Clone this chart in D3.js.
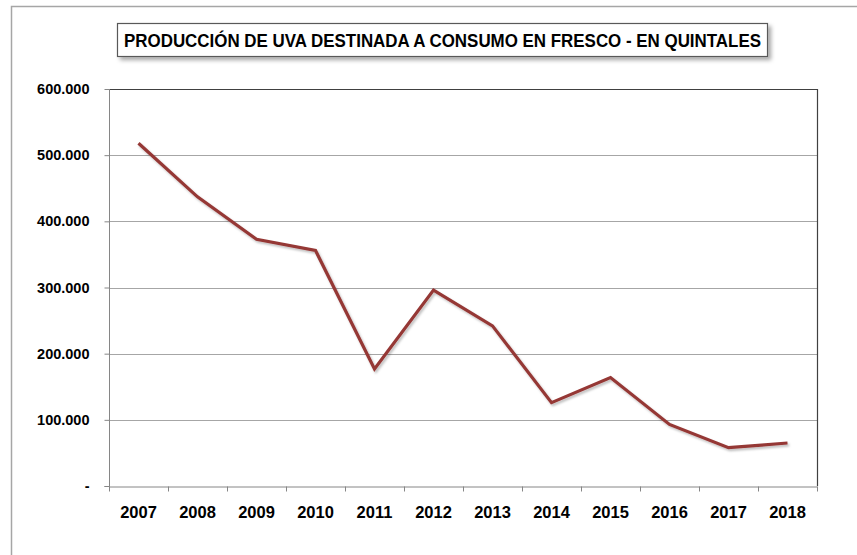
<!DOCTYPE html>
<html>
<head>
<meta charset="utf-8">
<script src="https://cdn.jsdelivr.net/npm/d3@7"></script>
<style>
  html, body { margin: 0; padding: 0; background: #fff; }
  svg { display: block; }
</style>
</head>
<body>
<svg id="chart" width="857" height="555"></svg>
<script>
const years = ["2007","2008","2009","2010","2011","2012","2013","2014","2015","2016","2017","2018"];
const produccion = [518000, 437000, 373000, 356000, 177000, 296000, 242000, 126000, 164000, 93000, 58000, 65000];
const yTicks = [0, 100000, 200000, 300000, 400000, 500000, 600000];
const titleText = "PRODUCCIÓN DE UVA DESTINADA A CONSUMO EN FRESCO - EN QUINTALES";

const svg = d3.select("#chart");
const W = 857, H = 555;
const plot = { left: 109, right: 817, top: 89, bottom: 486 };

const defs = svg.append("defs");
const sh = defs.append("filter").attr("id", "shadow").attr("x", "-10%").attr("y", "-30%").attr("width", "130%").attr("height", "180%");
sh.append("feDropShadow").attr("dx", 3).attr("dy", 3).attr("stdDeviation", 2).attr("flood-color", "#000").attr("flood-opacity", 0.35);
const lsh = defs.append("filter").attr("id", "lshadow").attr("x", "-10%").attr("y", "-10%").attr("width", "130%").attr("height", "130%");
lsh.append("feDropShadow").attr("dx", 1.5).attr("dy", 2).attr("stdDeviation", 1.2).attr("flood-color", "#000").attr("flood-opacity", 0.25);

// outer chart frame (extends beyond picture on right/bottom)
svg.append("path")
  .attr("d", `M11.5,${H + 5} L11.5,6.5 L${W + 5},6.5`)
  .attr("fill", "none").attr("stroke", "#a6a6a6").attr("stroke-width", 1.5);

const x = d3.scaleBand().domain(years).range([plot.left, plot.right]).paddingInner(0).paddingOuter(0);
const y = d3.scaleLinear().domain([0, 600000]).range([plot.bottom, plot.top]);

const locale = d3.formatLocale({ decimal: ",", thousands: ".", grouping: [3], currency: ["", ""] });
const fmt = locale.format(",.0f");

// gridlines
svg.append("g").selectAll("line").data(yTicks.filter(d => d > 0)).join("line")
  .attr("x1", plot.left).attr("x2", plot.right)
  .attr("y1", d => Math.round(y(d)) + 0.5).attr("y2", d => Math.round(y(d)) + 0.5)
  .attr("stroke", "#a6a6a6").attr("stroke-width", 1);

// plot area border (top/right dark)
svg.append("path")
  .attr("d", `M${plot.left},${plot.top + 0.5} L${plot.right + 0.5},${plot.top + 0.5} L${plot.right + 0.5},${plot.bottom}`)
  .attr("fill", "none").attr("stroke", "#404040").attr("stroke-width", 1.2);

// Y axis
const yAxis = d3.axisLeft(y).tickValues(yTicks).tickSize(5).tickPadding(15)
  .tickFormat(d => d === 0 ? "-" : fmt(d));
const gy = svg.append("g").attr("transform", `translate(${plot.left + 0.5},0)`).call(yAxis);
gy.select(".domain").attr("stroke", "#868686").attr("d", `M-5,${plot.bottom + 0.5}H0V${plot.top}`);
gy.selectAll(".tick line").attr("stroke", "#868686");
gy.selectAll(".tick text")
  .attr("font-family", "'Liberation Sans', Arial, sans-serif")
  .attr("font-weight", "bold").attr("font-size", 14.5).attr("fill", "#000");

// X axis
const xAxis = d3.axisBottom(x).tickSize(0).tickPadding(20);
const gx = svg.append("g").attr("transform", `translate(0,${plot.bottom + 0.5})`).call(xAxis);
gx.select(".domain").attr("stroke", "#868686");
gx.selectAll(".tick text")
  .attr("font-family", "'Liberation Sans', Arial, sans-serif")
  .attr("font-weight", "bold").attr("font-size", 16.5).attr("fill", "#000");
// category boundary tick marks
const bounds = years.map(d => x(d)).concat([x(years[years.length - 1]) + x.bandwidth()]);
gx.append("g").selectAll("line").data(bounds).join("line")
  .attr("x1", d => Math.round(d) + 0.5).attr("x2", d => Math.round(d) + 0.5)
  .attr("y1", 0).attr("y2", 5)
  .attr("stroke", "#868686");

// line series
const line = d3.line().x((d, i) => x(years[i]) + x.bandwidth() / 2).y(d => y(d));
svg.append("path").datum(produccion)
  .attr("d", line)
  .attr("fill", "none").attr("stroke", "#953735").attr("stroke-width", 3.2)
  .attr("stroke-linejoin", "miter").attr("stroke-linecap", "butt")
  .attr("filter", "url(#lshadow)");

// title box
const tb = { x: 117.5, y: 23.5, w: 650, h: 33 };
svg.append("rect").attr("x", tb.x).attr("y", tb.y).attr("width", tb.w).attr("height", tb.h)
  .attr("fill", "#fff").attr("stroke", "#595959").attr("stroke-width", 1.2)
  .attr("filter", "url(#shadow)");
svg.append("text")
  .attr("x", tb.x + tb.w / 2).attr("y", tb.y + 23.5)
  .attr("text-anchor", "middle")
  .attr("font-family", "'Liberation Sans', Arial, sans-serif")
  .attr("font-weight", "bold").attr("font-size", 19).attr("fill", "#000")
  .attr("textLength", 637).attr("lengthAdjust", "spacingAndGlyphs")
  .text(titleText);
</script>
</body>
</html>
